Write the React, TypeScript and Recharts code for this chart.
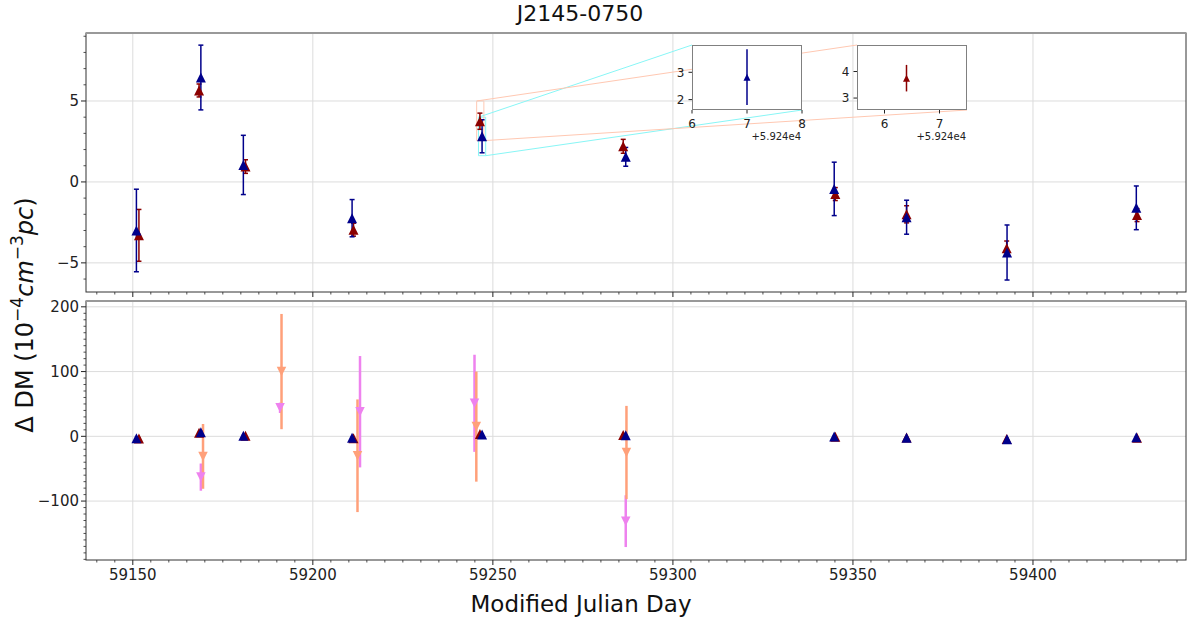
import React from 'react'
import {
  ScatterChart,
  Scatter,
  XAxis,
  YAxis,
  ErrorBar,
  ReferenceLine,
  ReferenceArea,
} from 'recharts'

const FONT = '"DejaVu Sans", sans-serif'

// DM offsets (1e-4 pc cm^-3) per epoch, two fits
const redMjd = [59151.7, 59168.4, 59181.3, 59211.3, 59246.4, 59286.2, 59345.1, 59364.9, 59392.7, 59428.9]
const redDm = [-3.3, 5.65, 0.95, -2.95, 3.75, 2.2, -0.75, -2.0, -4.1, -2.05]
const redErr = [1.6, 0.4, 0.42, 0.4, 0.5, 0.43, 0.4, 0.53, 0.45, 0.4]

const blueMjd = [59151.0, 59168.9, 59180.7, 59210.9, 59247.0, 59286.9, 59344.8, 59364.9, 59392.8, 59428.7]
const blueDm = [-3.0, 6.45, 1.05, -2.24, 2.82, 1.55, -0.43, -2.18, -4.36, -1.6]
const blueErr = [2.55, 2.0, 1.83, 1.15, 1.02, 0.58, 1.65, 1.05, 1.7, 1.35]

// single-band estimates, only shown in the lower panel
const orangeMjd = [59169.5, 59191.3, 59212.4, 59245.4, 59287.1]
const orangeDm = [-31, 100, -30, 15, -25]
const orangeErr = [50, 89, 87, 85, 72]

const violetMjd = [59168.9, 59190.9, 59213.1, 59244.9, 59286.9]
const violetDm = [-63, 44, 38, 51, -131]
const violetErr = [21, 8, 86, 75, 40]

const xMajor = [59150, 59200, 59250, 59300, 59350, 59400]
const topYMajor = [-5, 0, 5]
const botYMajor = [-100, 0, 100, 200]

const xMinorTicks = Array.from({ length: 61 }, (_, i) => 59140 + i * 5)
const topYTicks = Array.from({ length: 16 }, (_, i) => -6 + i)
const botYTicks = Array.from({ length: 40 }, (_, i) => -190 + i * 10)

const BLUE = '#00008b'
const RED = '#8b0000'
const ORANGE = '#ffa07a'
const VIOLET = '#ee82ee'
const GRID = '#dcdcdc'

// plot frame in page pixels
const PLOT_L = 86
const PLOT_R = 1186
const TOP_T = 33
const TOP_B = 292
const BOT_T = 301
const BOT_B = 560
const X_DOMAIN: [number, number] = [59137, 59442.5]
const TOP_Y: [number, number] = [-6.8, 9.2]
const BOT_Y: [number, number] = [-191, 209]

const toRows = (mjd: number[], dm: number[], err: number[]) =>
  mjd.map((m, i) => ({ mjd: m, dm: dm[i], err: err[i] }))

const redRows = toRows(redMjd, redDm, redErr)
const blueRows = toRows(blueMjd, blueDm, blueErr)
const orangeRows = toRows(orangeMjd, orangeDm, orangeErr)
const violetRows = toRows(violetMjd, violetDm, violetErr)

// page pixel -> top panel data coords (used for the inset connector lines)
function pxToTop(px: number, py: number) {
  const x = X_DOMAIN[0] + ((px - PLOT_L) / (PLOT_R - PLOT_L)) * (X_DOMAIN[1] - X_DOMAIN[0])
  const y = TOP_Y[1] - ((py - TOP_T) / (TOP_B - TOP_T)) * (TOP_Y[1] - TOP_Y[0])
  return { x, y }
}

interface Inset {
  key: string
  color: string
  line: string
  rows: { mjd: number; dm: number; err: number }[]
  xDomain: [number, number]
  yDomain: [number, number]
  xTicks: number[]
  yTicks: number[]
  box: { left: number; top: number; width: number; height: number }
}

const insets: Inset[] = [
  {
    key: 'blue',
    color: BLUE,
    line: '#88f6f6',
    rows: [blueRows[4]],
    xDomain: [59246, 59248],
    yDomain: [1.62, 4.0],
    xTicks: [59246, 59247, 59248],
    yTicks: [2, 3],
    box: { left: 692, top: 45, width: 110, height: 65 },
  },
  {
    key: 'red',
    color: RED,
    line: '#ffc8b2',
    rows: [redRows[4]],
    xDomain: [59245.5, 59247.5],
    yDomain: [2.55, 5.0],
    xTicks: [59246, 59247],
    yTicks: [3, 4],
    box: { left: 857, top: 45, width: 110, height: 65 },
  },
]

const fmtNum = (v: number) => String(Math.round(v * 100) / 100).replace('-', '\u2212')

function triangle(size: number, color: string, down = false) {
  return (props: any) => {
    const { cx, cy } = props
    if (cx == null || cy == null) return <g />
    const h = size / 2
    const pts = down
      ? `${cx - h},${cy - h} ${cx + h},${cy - h} ${cx},${cy + h}`
      : `${cx},${cy - h} ${cx - h},${cy + h} ${cx + h},${cy + h}`
    return <polygon points={pts} fill={color} />
  }
}

function XTick(props: any) {
  const { x = 0, y = 0, payload, labels, isMajor, fmt = fmtNum, fontSize = 15, majorLen = 5, minorLen = 2.5, gap = 15 } = props
  const v = payload?.value ?? 0
  const major = isMajor(v)
  return (
    <g>
      <line x1={x} x2={x} y1={y} y2={y + (major ? majorLen : minorLen)} stroke="#222" strokeWidth={major ? 1 : 0.8} />
      {labels && major && (
        <text x={x} y={y + majorLen + gap} textAnchor="middle" fontSize={fontSize} fill="#222" fontFamily={FONT}>
          {fmt(v)}
        </text>
      )}
    </g>
  )
}

function YTick(props: any) {
  const { x = 0, y = 0, payload, isMajor, fontSize = 15, majorLen = 5, minorLen = 2.5, gap = 2 } = props
  const v = payload?.value ?? 0
  const major = isMajor(v)
  return (
    <g>
      <line x1={x} x2={x - (major ? majorLen : minorLen)} y1={y} y2={y} stroke="#222" strokeWidth={major ? 1 : 0.8} />
      {major && (
        <text x={x - majorLen - gap} y={y} dy="0.36em" textAnchor="end" fontSize={fontSize} fill="#222" fontFamily={FONT}>
          {fmtNum(v)}
        </text>
      )}
    </g>
  )
}

function TopPanel() {
  return (
    <ScatterChart width={1195} height={310} margin={{ top: TOP_T, right: 1195 - PLOT_R, bottom: 8, left: 0 }}>
      {xMajor.map((v) => (
        <ReferenceLine key={'gx' + v} x={v} stroke={GRID} strokeWidth={1} />
      ))}
      {topYMajor.map((v) => (
        <ReferenceLine key={'gy' + v} y={v} stroke={GRID} strokeWidth={1} />
      ))}
      <XAxis
        dataKey="mjd"
        type="number"
        domain={X_DOMAIN}
        allowDataOverflow
        ticks={xMinorTicks}
        interval={0}
        height={10}
        tickSize={0}
        tickMargin={0}
        axisLine={false}
        tick={(p: any) => <XTick {...p} labels={false} isMajor={(v: number) => v % 50 === 0} />}
      />
      <YAxis
        dataKey="dm"
        type="number"
        domain={TOP_Y}
        allowDataOverflow
        ticks={topYTicks}
        interval={0}
        width={PLOT_L}
        tickSize={0}
        tickMargin={0}
        axisLine={false}
        tick={(p: any) => <YTick {...p} isMajor={(v: number) => v % 5 === 0} />}
      />
      {insets.map((ins) => (
        <ReferenceArea
          key={'ra' + ins.key}
          x1={ins.xDomain[0]}
          x2={ins.xDomain[1]}
          y1={ins.yDomain[0]}
          y2={ins.yDomain[1]}
          fill="none"
          fillOpacity={0}
          stroke={ins.line}
          strokeWidth={1}
          ifOverflow="visible"
        />
      ))}
      {insets.map((ins) => {
        const tl = pxToTop(ins.box.left, ins.box.top)
        const br = pxToTop(ins.box.left + ins.box.width, ins.box.top + ins.box.height)
        return [
          <ReferenceLine
            key={'c1' + ins.key}
            segment={[{ x: ins.xDomain[0], y: ins.yDomain[1] }, tl]}
            stroke={ins.line}
            strokeWidth={1}
            ifOverflow="visible"
          />,
          <ReferenceLine
            key={'c2' + ins.key}
            segment={[{ x: ins.xDomain[1], y: ins.yDomain[0] }, br]}
            stroke={ins.line}
            strokeWidth={1}
            ifOverflow="visible"
          />,
        ]
      })}
      <Scatter data={redRows} shape={triangle(10, RED)} isAnimationActive={false}>
        <ErrorBar dataKey="err" direction="y" width={2.5} stroke={RED} strokeWidth={1.5} />
      </Scatter>
      <Scatter data={blueRows} shape={triangle(10, BLUE)} isAnimationActive={false}>
        <ErrorBar dataKey="err" direction="y" width={2.5} stroke={BLUE} strokeWidth={1.5} />
      </Scatter>
    </ScatterChart>
  )
}

function BottomPanel() {
  return (
    <ScatterChart width={1195} height={332} margin={{ top: BOT_T - 292, right: 1195 - PLOT_R, bottom: 34, left: 0 }}>
      {xMajor.map((v) => (
        <ReferenceLine key={'gx' + v} x={v} stroke={GRID} strokeWidth={1} />
      ))}
      {botYMajor.map((v) => (
        <ReferenceLine key={'gy' + v} y={v} stroke={GRID} strokeWidth={1} />
      ))}
      <XAxis
        dataKey="mjd"
        type="number"
        domain={X_DOMAIN}
        allowDataOverflow
        ticks={xMinorTicks}
        interval={0}
        height={30}
        tickSize={0}
        tickMargin={0}
        axisLine={false}
        tick={(p: any) => <XTick {...p} labels isMajor={(v: number) => v % 50 === 0} />}
      />
      <YAxis
        dataKey="dm"
        type="number"
        domain={BOT_Y}
        allowDataOverflow
        ticks={botYTicks}
        interval={0}
        width={PLOT_L}
        tickSize={0}
        tickMargin={0}
        axisLine={false}
        tick={(p: any) => <YTick {...p} isMajor={(v: number) => v % 100 === 0} />}
      />
      <Scatter data={violetRows} shape={triangle(9.5, VIOLET, true)} isAnimationActive={false}>
        <ErrorBar dataKey="err" direction="y" width={0} stroke={VIOLET} strokeWidth={2.5} />
      </Scatter>
      <Scatter data={orangeRows} shape={triangle(9.5, ORANGE, true)} isAnimationActive={false}>
        <ErrorBar dataKey="err" direction="y" width={0} stroke={ORANGE} strokeWidth={2.5} />
      </Scatter>
      <Scatter data={redRows} shape={triangle(10, RED)} isAnimationActive={false}>
        <ErrorBar dataKey="err" direction="y" width={1.5} stroke={RED} strokeWidth={1.2} />
      </Scatter>
      <Scatter data={blueRows} shape={triangle(10, BLUE)} isAnimationActive={false}>
        <ErrorBar dataKey="err" direction="y" width={1.5} stroke={BLUE} strokeWidth={1.2} />
      </Scatter>
    </ScatterChart>
  )
}

function InsetChart({ ins }: { ins: Inset }) {
  const left = 30
  const right = 12
  const xh = 24
  return (
    <>
      <div
        style={{
          position: 'absolute',
          left: ins.box.left,
          top: ins.box.top,
          width: ins.box.width,
          height: ins.box.height,
          background: '#fff',
          boxSizing: 'border-box',
          border: '1.5px solid #808080',
        }}
      />
      <div style={{ position: 'absolute', left: ins.box.left - left, top: ins.box.top }}>
        <ScatterChart
          width={ins.box.width + left + right}
          height={ins.box.height + xh}
          margin={{ top: 0, right, bottom: 0, left: 0 }}
        >
          <XAxis
            dataKey="mjd"
            type="number"
            domain={ins.xDomain}
            allowDataOverflow
            ticks={ins.xTicks}
            interval={0}
            height={xh}
            tickSize={0}
            tickMargin={0}
            axisLine={false}
            tick={(p: any) => (
              <XTick
                {...p}
                labels
                isMajor={() => true}
                fmt={(v: number) => String(Math.round(v - 59240))}
                fontSize={12}
                majorLen={3.5}
                gap={14}
              />
            )}
          />
          <YAxis
            dataKey="dm"
            type="number"
            domain={ins.yDomain}
            allowDataOverflow
            ticks={ins.yTicks}
            interval={0}
            width={left}
            tickSize={0}
            tickMargin={0}
            axisLine={false}
            tick={(p: any) => <YTick {...p} isMajor={() => true} fontSize={12} majorLen={3.5} gap={4} />}
          />
          <Scatter data={ins.rows} shape={triangle(7, ins.color)} isAnimationActive={false}>
            <ErrorBar dataKey="err" direction="y" width={0} stroke={ins.color} strokeWidth={1.5} />
          </Scatter>
        </ScatterChart>
      </div>
    </>
  )
}

export default function App() {
  return (
    <div style={{ position: 'absolute', left: 0, top: 0, width: 1195, height: 624, background: '#fff', fontFamily: FONT }}>
      <div style={{ position: 'absolute', left: 0, top: 0 }}>
        <TopPanel />
      </div>
      <div style={{ position: 'absolute', left: 0, top: 292 }}>
        <BottomPanel />
      </div>
      <svg width={1195} height={624} style={{ position: 'absolute', left: 0, top: 0, pointerEvents: 'none' }}>
        <rect x={PLOT_L} y={TOP_T} width={PLOT_R - PLOT_L} height={TOP_B - TOP_T} fill="none" stroke="#333" strokeWidth={1} />
        <line x1={PLOT_L} x2={PLOT_R} y1={TOP_T} y2={TOP_T} stroke="#999" strokeWidth={2} />
        <rect x={PLOT_L} y={BOT_T} width={PLOT_R - PLOT_L} height={BOT_B - BOT_T} fill="none" stroke="#333" strokeWidth={1} />
        <line x1={PLOT_L} x2={PLOT_R} y1={BOT_T} y2={BOT_T} stroke="#999" strokeWidth={2} />
        <text x={580} y={21} textAnchor="middle" fontSize={22} fill="#111" fontFamily={FONT}>
          J2145-0750
        </text>
        <text x={581} y={612} textAnchor="middle" fontSize={23} fill="#111" fontFamily={FONT}>
          Modified Julian Day
        </text>
        <text transform="translate(33, 315) rotate(-90)" textAnchor="middle" fontSize={24} fill="#111" fontFamily={FONT}>
          <tspan>{'\u0394 DM (10'}</tspan>
          <tspan dy={-10} fontSize={17}>{'\u22124'}</tspan>
          <tspan dy={10} fontStyle="italic">cm</tspan>
          <tspan dy={-10} fontSize={17}>{'\u22123'}</tspan>
          <tspan dy={10} fontStyle="italic">pc</tspan>
          <tspan>)</tspan>
        </text>
        {insets.map((ins) => (
          <text
            key={'off' + ins.key}
            x={ins.box.left + ins.box.width - 1}
            y={ins.box.top + ins.box.height + 30}
            textAnchor="end"
            fontSize={10}
            fill="#222"
            fontFamily={FONT}
          >
            +5.924e4
          </text>
        ))}
      </svg>
      {insets.map((ins) => (
        <InsetChart key={ins.key} ins={ins} />
      ))}
    </div>
  )
}
